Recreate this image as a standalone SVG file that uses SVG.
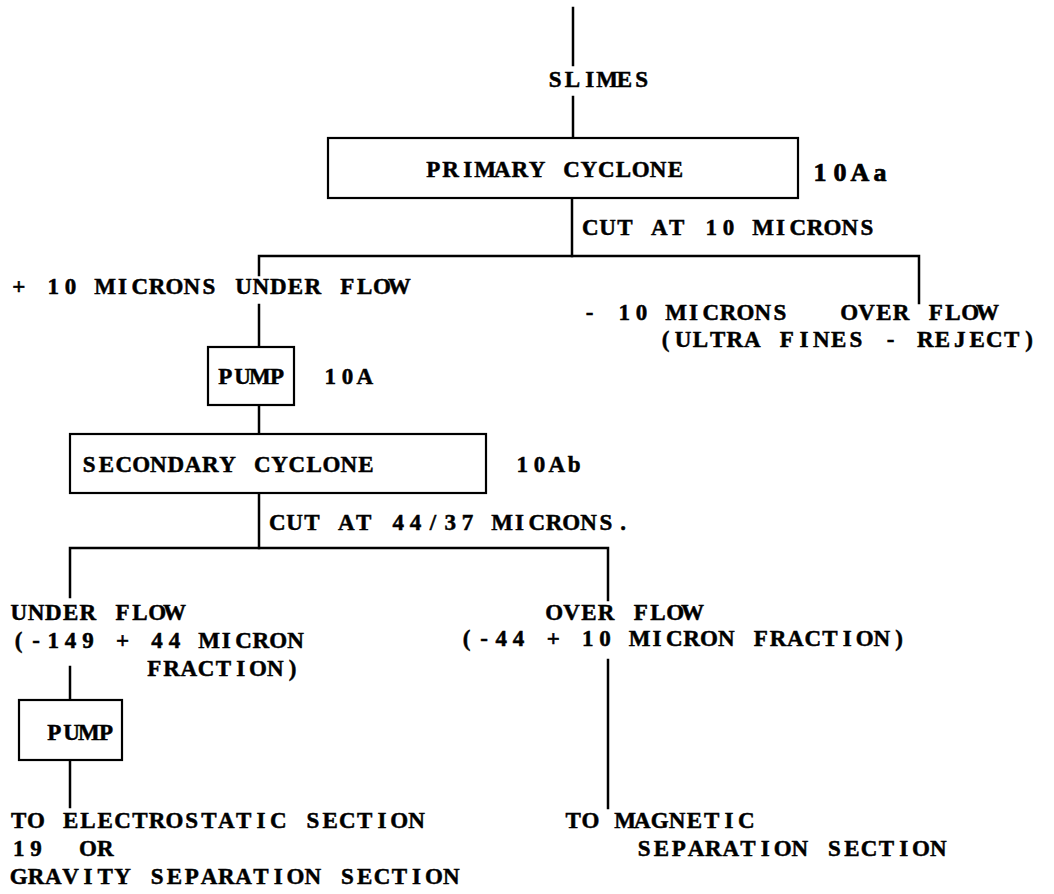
<svg xmlns="http://www.w3.org/2000/svg" width="1054" height="894" viewBox="0 0 1054 894" xml:space="preserve">
<style>
  text { font-family: "Liberation Serif", "Times New Roman", serif; font-weight: bold; font-size: 23px; text-anchor: middle; fill: #000; stroke: #000; stroke-width: 0.5; white-space: pre; }
  .big { font-size: 26px; stroke-width: 0.7; }
  .ln { stroke: #000; stroke-width: 2.5; fill: none; stroke-linecap: square; }
  .box { stroke: #000; stroke-width: 2.2; fill: #fff; }
</style>
<rect width="1054" height="894" fill="#fff"/>
<g id="connectors">
  <line class="ln" x1="573" y1="8" x2="573" y2="65"/>
  <line class="ln" x1="573" y1="97" x2="573" y2="138"/>
  <line class="ln" x1="572" y1="198" x2="572" y2="256"/>
  <polyline class="ln" points="259,275 259,256 919,256 919,303"/>
  <line class="ln" x1="259" y1="305" x2="259" y2="347"/>
  <line class="ln" x1="259" y1="405" x2="259" y2="434" stroke-width="1.8"/>
  <line class="ln" x1="259" y1="493" x2="259" y2="548"/>
  <polyline class="ln" points="70,597 70,548 608,548 608,600"/>
  <line class="ln" x1="70" y1="667" x2="70" y2="700"/>
  <line class="ln" x1="70" y1="760" x2="70" y2="807"/>
  <line class="ln" x1="608" y1="660" x2="608" y2="808"/>
</g>
<g id="slimes"><text transform="translate(546.5 0)" y="87" x="8.7 26 43.3 60.6 77.9 95.2">SLIMES</text></g>
<g id="primary-cyclone">
  <rect class="box" x="328" y="138" width="470" height="60"/>
  <text transform="translate(424.5 0)" y="177" x="8.7 26 43.3 60.6 77.9 95.2 112.5 129.8 147.1 164.4 181.7 199 216.3 233.6 250.9">PRIMARY CYCLONE</text>
  <text class="big" transform="translate(810 0)" y="181" x="10 30 50 70">10Aa</text>
</g>
<g id="cut-10"><text transform="translate(581.5 0)" y="235" x="8.7 26 43.3 60.6 77.9 95.2 112.5 129.8 147.1 164.4 181.7 199 216.3 233.6 250.9 268.2 285.5">CUT AT 10 MICRONS</text></g>
<g id="underflow-10"><text transform="translate(10 0)" y="294" x="8.7 26 43.3 60.6 77.9 95.2 112.5 129.8 147.1 164.4 181.7 199 216.3 233.6 250.9 268.2 285.5 302.8 320.1 337.4 354.7 372 389.3">+ 10 MICRONS UNDER FLOW</text></g>
<g id="overflow-10">
  <text transform="translate(581 0)" y="320" x="8.7 26 43.3 60.6 77.9 95.2 112.5 129.8 147.1 164.4 181.7 199 216.3 233.6 250.9 268.2 285.5 302.8 320.1 337.4 354.7 372 389.3 406.6">- 10 MICRONS   OVER FLOW</text>
  <text transform="translate(657 0)" y="347" x="8.7 26 43.3 60.6 77.9 95.2 112.5 129.8 147.1 164.4 181.7 199 216.3 233.6 250.9 268.2 285.5 302.8 320.1 337.4 354.7 372">(ULTRA FINES - REJECT)</text>
</g>
<g id="pump-1">
  <rect class="box" x="208" y="347" width="86" height="58"/>
  <text transform="translate(216.5 0)" y="384" x="8.7 26 43.3 60.6">PUMP</text>
  <text transform="translate(321.5 0)" y="384" x="8.7 26 43.3">10A</text>
</g>
<g id="secondary-cyclone">
  <rect class="box" x="70" y="434" width="416" height="59"/>
  <text transform="translate(80.5 0)" y="472" x="8.7 26 43.3 60.6 77.9 95.2 112.5 129.8 147.1 164.4 181.7 199 216.3 233.6 250.9 268.2 285.5">SECONDARY CYCLONE</text>
  <text transform="translate(513.5 0)" y="472" x="8.7 26 43.3 60.6">10Ab</text>
</g>
<g id="cut-44"><text transform="translate(268.5 0)" y="530" x="8.7 26 43.3 60.6 77.9 95.2 112.5 129.8 147.1 164.4 181.7 199 216.3 233.6 250.9 268.2 285.5 302.8 320.1 337.4 354.7">CUT AT 44/37 MICRONS.</text></g>
<g id="underflow-44">
  <text transform="translate(10 0)" y="620" x="8.7 26 43.3 60.6 77.9 95.2 112.5 129.8 147.1 164.4">UNDER FLOW</text>
  <text transform="translate(10 0)" y="648" x="8.7 26 43.3 60.6 77.9 95.2 112.5 129.8 147.1 164.4 181.7 199 216.3 233.6 250.9 268.2 285.5">(-149 + 44 MICRON</text>
  <text transform="translate(145.5 0)" y="676" x="8.7 26 43.3 60.6 77.9 95.2 112.5 129.8 147.1">FRACTION)</text>
</g>
<g id="overflow-44">
  <text transform="translate(545.5 0)" y="620" x="8.7 26 43.3 60.6 77.9 95.2 112.5 129.8 147.1">OVER FLOW</text>
  <text transform="translate(458 0)" y="646" x="8.7 26 43.3 60.6 77.9 95.2 112.5 129.8 147.1 164.4 181.7 199 216.3 233.6 250.9 268.2 285.5 302.8 320.1 337.4 354.7 372 389.3 406.6 423.9 441.2">(-44 + 10 MICRON FRACTION)</text>
</g>
<g id="pump-2">
  <rect class="box" x="19" y="700" width="103" height="60"/>
  <text transform="translate(45.5 0)" y="740" x="8.7 26 43.3 60.6">PUMP</text>
</g>
<g id="to-electrostatic">
  <text transform="translate(10 0)" y="828" x="8.7 26 43.3 60.6 77.9 95.2 112.5 129.8 147.1 164.4 181.7 199 216.3 233.6 250.9 268.2 285.5 302.8 320.1 337.4 354.7 372 389.3 406.6">TO ELECTROSTATIC SECTION</text>
  <text transform="translate(10 0)" y="856" x="8.7 26 43.3 60.6 77.9 95.2">19  OR</text>
  <text transform="translate(10 0)" y="884" x="8.7 26 43.3 60.6 77.9 95.2 112.5 129.8 147.1 164.4 181.7 199 216.3 233.6 250.9 268.2 285.5 302.8 320.1 337.4 354.7 372 389.3 406.6 423.9 441.2">GRAVITY SEPARATION SECTION</text>
</g>
<g id="to-magnetic">
  <text transform="translate(564.5 0)" y="828" x="8.7 26 43.3 60.6 77.9 95.2 112.5 129.8 147.1 164.4 181.7">TO MAGNETIC</text>
  <text transform="translate(635.5 0)" y="856" x="8.7 26 43.3 60.6 77.9 95.2 112.5 129.8 147.1 164.4 181.7 199 216.3 233.6 250.9 268.2 285.5 302.8">SEPARATION SECTION</text>
</g>
</svg>
